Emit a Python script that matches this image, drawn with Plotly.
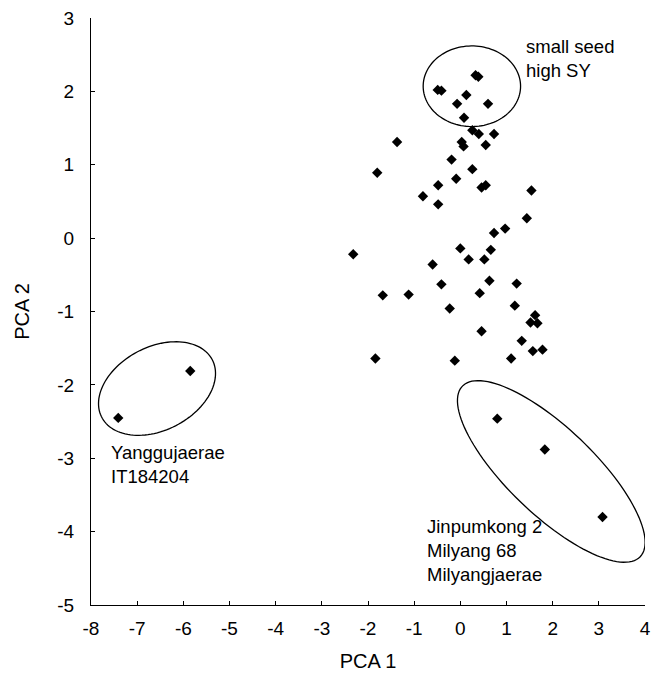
import numpy as np
import plotly.graph_objects as go

# ---- data ----
pca1 = [0.33, 0.39, -0.49, -0.41, 0.13, -0.07, 0.60, 0.08, 0.26, 0.40,
        0.73, -1.37, 0.03, 0.07, 0.55, -0.19, -1.80, 0.26, -0.09, -0.48,
        0.46, 0.55, 1.54, -0.81, -0.48, 1.44, 0.97, 0.73, -2.32, 0.00,
        0.66, 0.18, 0.52, -0.60, -0.41, 0.63, 1.22, -1.68, -1.12, 0.42,
        1.18, -0.23, 1.62, 1.52, 1.67, 0.46, 1.33, 1.57, 1.78, -1.84,
        -0.12, 1.10, 0.80, 1.83, 3.08, -5.85, -7.41]
pca2 = [2.22, 2.20, 2.02, 2.01, 1.95, 1.83, 1.83, 1.64, 1.47, 1.42,
        1.42, 1.31, 1.31, 1.25, 1.27, 1.07, 0.89, 0.94, 0.81, 0.72,
        0.69, 0.72, 0.65, 0.57, 0.46, 0.27, 0.13, 0.07, -0.22, -0.14,
        -0.16, -0.29, -0.29, -0.36, -0.63, -0.58, -0.62, -0.78, -0.77, -0.75,
        -0.92, -0.96, -1.05, -1.15, -1.16, -1.27, -1.40, -1.54, -1.52, -1.64,
        -1.67, -1.64, -2.46, -2.88, -3.80, -1.81, -2.45]

x_ticks = list(range(-8, 5))
y_ticks = list(range(-5, 4))

group_labels = ["small seed<br>high SY",
                "Yanggujaerae<br>IT184204",
                "Jinpumkong 2<br>Milyang 68<br>Milyangjaerae"]

# ---- layout geometry (page body has an 8px default margin) ----
W, H = 654, 665
ML, MR, MT, MB = 83, 17, 10, 68
SX = (W - ML - MR) / 12.0   # px per x-unit
SY = (H - MT - MB) / 8.0    # px per y-unit

FONT = "Arial, 'Liberation Sans', Helvetica, sans-serif"


def ellipse_path(cx, cy, a_px, b_px, theta_deg, n=120):
    """Ellipse defined in screen pixels (rotation), expressed in data units."""
    t = np.linspace(0, 2 * np.pi, n)
    th = np.deg2rad(theta_deg)
    dx = a_px * np.cos(t) * np.cos(th) - b_px * np.sin(t) * np.sin(th)
    dy = a_px * np.cos(t) * np.sin(th) + b_px * np.sin(t) * np.cos(th)
    xs = cx + dx / SX
    ys = cy + dy / SY
    d = "M " + " L ".join(f"{x:.4f},{y:.4f}" for x, y in zip(xs, ys)) + " Z"
    return d


fig = go.Figure()
fig.add_trace(go.Scatter(
    x=pca1, y=pca2, mode="markers",
    marker=dict(symbol="diamond", size=8, color="black", line=dict(width=0)),
    showlegend=False, hoverinfo="x+y",
))

shapes = [
    dict(type="path", xref="x", yref="y",
         path=ellipse_path(0.25, 2.07, 48.7, 40.3, 0),
         line=dict(color="black", width=1.3)),
    dict(type="path", xref="x", yref="y",
         path=ellipse_path(-6.57, -2.05, 62.3, 41.6, 27.5),
         line=dict(color="black", width=1.3)),
    dict(type="path", xref="x", yref="y",
         path=ellipse_path(1.97, -3.18, 123.2, 43.3, -43.8),
         line=dict(color="black", width=1.3)),
]

annotations = [
    dict(x=1.37, y=2.45, text=group_labels[0]),
    dict(x=-7.62, y=-3.09, text=group_labels[1]),
    dict(x=-0.755, y=-4.26, text=group_labels[2]),
]
for a in annotations:
    a.update(xref="x", yref="y", xanchor="left", yanchor="middle",
             align="left", showarrow=False,
             font=dict(family=FONT, size=18.5, color="black"))

axis_common = dict(
    showgrid=False, zeroline=False, showline=True, linecolor="black",
    linewidth=1, ticks="inside", ticklen=4, tickcolor="black",
    tickfont=dict(family=FONT, size=19, color="black"),
    title_font=dict(family=FONT, size=20, color="black"),
    mirror=False, automargin=False, ticklabeloverflow="allow",
)

fig.update_layout(
    width=W, height=H,
    margin=dict(l=ML, r=MR, t=MT, b=MB),
    paper_bgcolor="white", plot_bgcolor="white",
    shapes=shapes, annotations=annotations,
    xaxis=dict(range=[-8, 4], tickvals=x_ticks, ticktext=[str(v) for v in x_ticks],
               title=dict(text="PCA 1", standoff=16), ticklabelstandoff=6,
               **axis_common),
    yaxis=dict(range=[-5, 3], tickvals=y_ticks, ticktext=[str(v) for v in y_ticks],
               title=dict(text="PCA 2", standoff=22), ticklabelstandoff=12,
               **axis_common),
)

fig.write_html("out.html")
